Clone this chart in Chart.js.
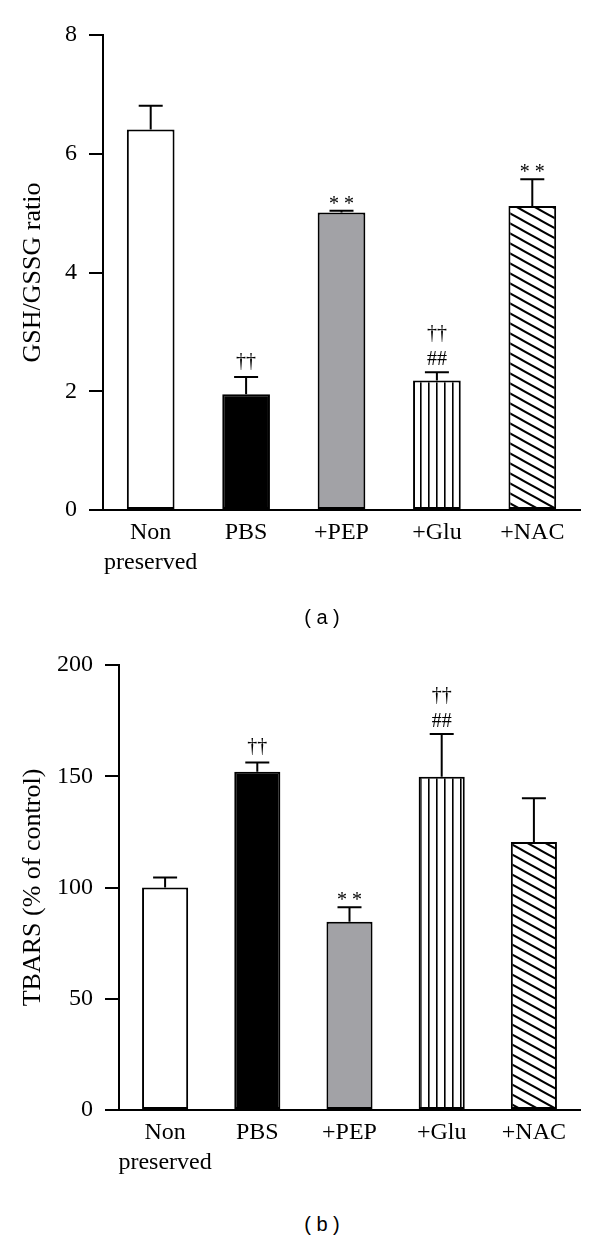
<!DOCTYPE html>
<html>
<head>
<meta charset="utf-8">
<script src="https://cdn.jsdelivr.net/npm/chart.js@4"></script>
<style>
  html, body { margin: 0; padding: 0; background: #fff; }
  body { width: 600px; height: 1245px; position: relative; overflow: hidden; }
  .panel { position: absolute; left: 0; }
  .caption { position: absolute; left: 272px; width: 100px; text-align: center;
    font-family: "Liberation Sans", Arial, sans-serif; font-size: 20px; line-height: 24px; color: #000; white-space: pre; }
</style>
</head>
<body>
<canvas id="chartA" class="panel" style="top:0px" width="600" height="590"></canvas>
<canvas id="chartB" class="panel" style="top:620px" width="600" height="590"></canvas>
<div class="caption" style="top:605px">( a )</div>
<div class="caption" style="top:1212px">( b )</div>
<script>
// ---- data ----
const categories = [["Non", "preserved"], "PBS", "+PEP", "+Glu", "+NAC"];

const gshMeans  = [6.41, 1.95, 5.01, 2.18, 5.12];
const gshErrors = [0.40, 0.29, 0.03, 0.14, 0.45];
const gshMarks  = [[], ["††"], ["* *"], ["##", "††"], ["* *"]];
const gshTitle  = "GSH/GSSG ratio";

const tbarsMeans  = [100, 152, 84.6, 149.8, 120.4];
const tbarsErrors = [4.5, 4.2, 6.5, 19.2, 19.7];
const tbarsMarks  = [[], ["††"], ["* *"], ["##", "††"], []];
const tbarsTitle  = "TBARS (% of control)";

// ---- styles ----
const SERIF = '"Liberation Serif", "DejaVu Serif", serif';

function makeVerticalPattern(period) {
  const c = document.createElement('canvas');
  c.width = period; c.height = 10;
  const g = c.getContext('2d');
  g.fillStyle = '#fff'; g.fillRect(0, 0, c.width, c.height);
  g.fillStyle = '#000'; g.fillRect(Math.floor(period / 2), 0, 1.6, 10);
  return g.createPattern(c, 'repeat');
}
function makeDiagonalPattern() {
  const w = 18, h = 10;
  const c = document.createElement('canvas');
  c.width = w; c.height = h;
  const g = c.getContext('2d');
  g.fillStyle = '#fff'; g.fillRect(0, 0, w, h);
  g.strokeStyle = '#000'; g.lineWidth = 2;
  for (let k = -1; k <= 1; k++) {
    g.beginPath();
    g.moveTo(-4, k * h - 4 * h / w);
    g.lineTo(w + 4, k * h + h + 4 * h / w);
    g.stroke();
  }
  return g.createPattern(c, 'repeat');
}

const errorBarPlugin = {
  id: 'errorBars',
  afterDatasetsDraw(chart, args, opts) {
    const { ctx } = chart;
    const x = chart.scales.x, y = chart.scales.y;
    const means = chart.data.datasets[0].data;
    ctx.save();
    ctx.strokeStyle = '#000';
    ctx.lineWidth = 2;
    means.forEach((m, i) => {
      const e = opts.errors[i];
      const px = x.getPixelForValue(i);
      const y0 = y.getPixelForValue(m);
      const y1 = y.getPixelForValue(m + e);
      ctx.beginPath();
      ctx.moveTo(px, y0); ctx.lineTo(px, y1);
      ctx.moveTo(px - opts.capHalf, y1); ctx.lineTo(px + opts.capHalf, y1);
      ctx.stroke();
      let bottom = y1 - opts.markGap;
      ctx.fillStyle = '#000';
      ctx.font = opts.markFont;
      ctx.textAlign = 'center';
      ctx.textBaseline = 'alphabetic';
      (opts.marks[i] || []).forEach(txt => {
        const mt = ctx.measureText(txt);
        const base = bottom - mt.actualBoundingBoxDescent;
        ctx.fillText(txt, px, base);
        bottom = base - mt.actualBoundingBoxAscent - opts.markLineGap;
      });
    });
    ctx.restore();
  }
};

function buildChart(id, means, errors, marks, title, yMax, yStep, axisWidth, padTop, xHeight) {
  const fills = ['#ffffff', '#000000', '#a2a2a6', makeVerticalPattern(8), makeDiagonalPattern()];
  return new Chart(document.getElementById(id), {
    type: 'bar',
    data: {
      labels: categories,
      datasets: [{
        data: means,
        backgroundColor: fills,
        borderColor: '#000',
        borderWidth: 2,
        borderSkipped: false,
        barPercentage: 0.5,
        categoryPercentage: 1.0
      }]
    },
    plugins: [errorBarPlugin],
    options: {
      responsive: false,
      devicePixelRatio: 1,
      animation: false,
      layout: { padding: { left: 0, right: 20, top: padTop, bottom: 0 } },
      plugins: {
        legend: { display: false },
        tooltip: { enabled: false },
        errorBars: { errors: errors, marks: marks, capHalf: 12, markGap: 7, markLineGap: 9,
                     markFont: '20px ' + SERIF }
      },
      scales: {
        x: {
          grid: { display: false, drawTicks: false },
          border: { display: true, color: '#000', width: 2 },
          ticks: { color: '#000', padding: 8, maxRotation: 0, autoSkip: false,
                   font: { family: SERIF, size: 24, lineHeight: 1.25 } },
          afterFit(scale) { scale.height = xHeight; }
        },
        y: {
          min: 0, max: yMax,
          grid: { display: true, drawOnChartArea: false, drawTicks: true, tickLength: 14,
                  color: '#000', lineWidth: 2 },
          border: { display: true, color: '#000', width: 2 },
          ticks: { stepSize: yStep, color: '#000', padding: 12,
                   font: { family: SERIF, size: 24 } },
          title: { display: true, text: title, color: '#000',
                   font: { family: SERIF, size: 26 }, padding: { top: 18, bottom: 0 } },
          afterFit(scale) { scale.width = axisWidth; }
        }
      }
    }
  });
}

buildChart('chartA', gshMeans, gshErrors, gshMarks, gshTitle, 8, 2, 103, 35, 80);
buildChart('chartB', tbarsMeans, tbarsErrors, tbarsMarks, tbarsTitle, 200, 50, 119, 45, 100);
</script>
</body>
</html>
